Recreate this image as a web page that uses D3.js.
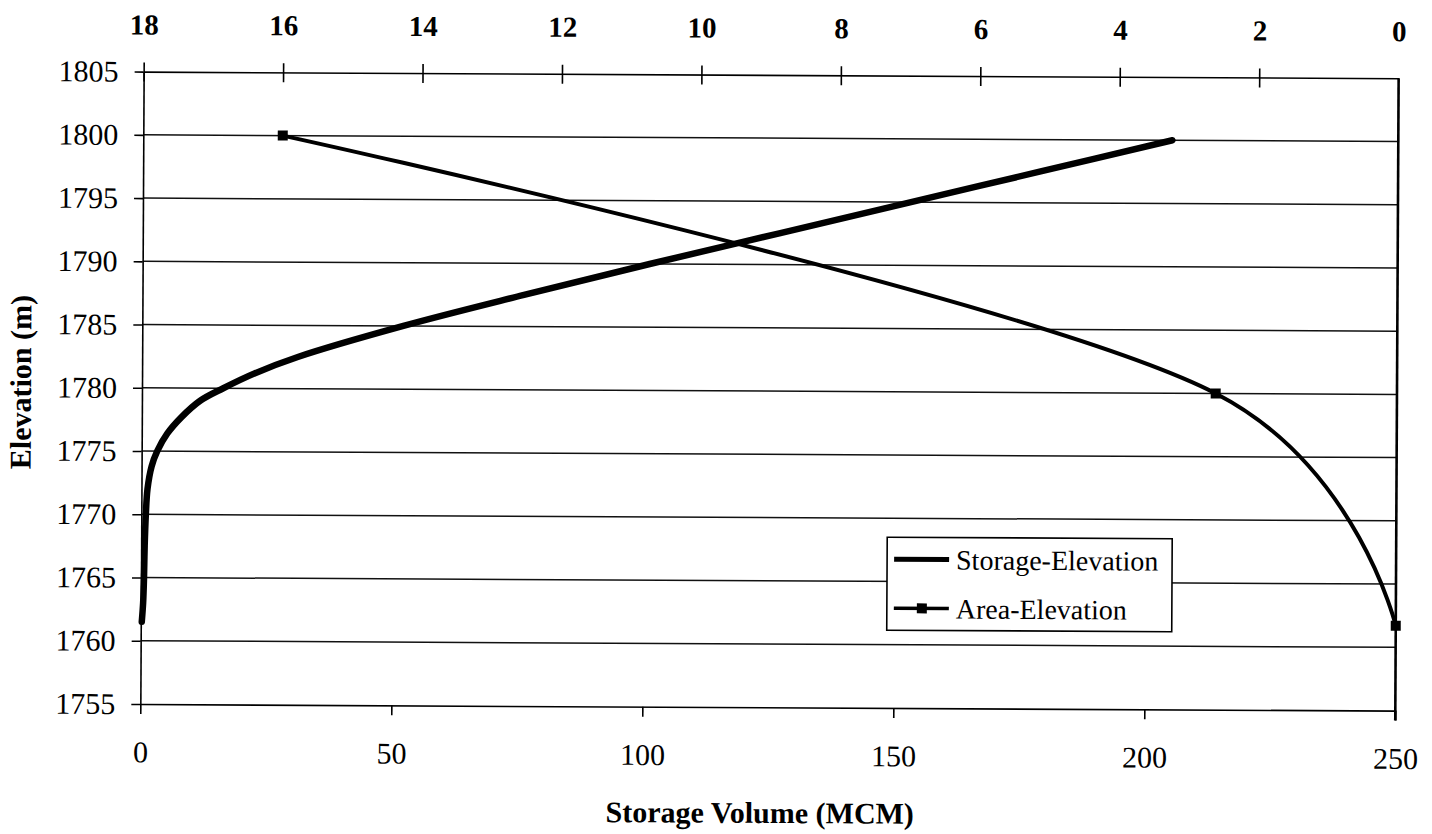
<!DOCTYPE html>
<html>
<head>
<meta charset="utf-8">
<script src="https://cdn.jsdelivr.net/npm/d3@7/dist/d3.min.js"></script>
<style>
  html, body { margin: 0; padding: 0; background: #fff; }
  svg { display: block; }
  text { font-family: "Liberation Serif", "Times New Roman", serif; fill: #000; }
</style>
</head>
<body>
<svg id="chart" width="1432" height="834"></svg>
<script>
// ---- data ----
const elevationTicks = [1755, 1760, 1765, 1770, 1775, 1780, 1785, 1790, 1795, 1800, 1805];
const volumeTicks = [0, 50, 100, 150, 200, 250];
const areaTicks = [18, 16, 14, 12, 10, 8, 6, 4, 2, 0];

// Storage-Elevation curve (storage volume, MCM vs elevation, m)
const storageElevation = [1761.5, 1763, 1765, 1767.5, 1770, 1772, 1773.8, 1775, 1776.4, 1777.7, 1779, 1780, 1781.2, 1782.5, 1785, 1787.5, 1790, 1792.5, 1795, 1797.5, 1800];
const storageVolume    = [0.2,    0.45, 0.6,  0.7,    0.9,  1.2,  2.0,    3.1,  5.1,    7.9,    11.6, 16.2, 22.5,   31,     52,   76,     101,  127,    153,  179,    205];

// Area-Elevation curve (surface area vs elevation)
const areaElevation = [1800, 1780, 1761.7];
const areaValue     = [16,   2.6,  0];

const seriesNames = ["Storage-Elevation", "Area-Elevation"];

// ---- layout ----
const svg = d3.select("#chart");
svg.append("rect").attr("width", 1432).attr("height", 834).attr("fill", "#fff");
const g = svg.append("g").attr("transform", "rotate(0.3,770,388)");

const pLeft = 142, pRight = 1397, pTop = 74.9, pBottom = 707.3;
const x = d3.scaleLinear().domain([0, 250]).range([pLeft, pRight]);
const xTop = d3.scaleLinear().domain([18, 0]).range([pLeft, pRight]);
const y = d3.scaleLinear().domain([1755, 1805]).range([pBottom, pTop]);

const FONT = '"Liberation Serif", "Times New Roman", serif';

// gridlines
g.append("g").selectAll("line")
  .data(elevationTicks.filter(d => d !== 1755 && d !== 1805))
  .join("line")
  .attr("x1", pLeft).attr("x2", pRight)
  .attr("y1", d => y(d)).attr("y2", d => y(d))
  .attr("stroke", "#111").attr("stroke-width", 1.5);

// left axis
const axL = g.append("g").attr("transform", `translate(${pLeft},0)`)
  .call(d3.axisLeft(y).tickValues(elevationTicks).tickFormat(d3.format("d"))
    .tickSizeInner(9).tickSizeOuter(0).tickPadding(16));
// bottom axis
const axB = g.append("g").attr("transform", `translate(0,${pBottom})`)
  .call(d3.axisBottom(x).tickValues(volumeTicks).tickFormat(d3.format("d"))
    .tickSizeInner(10).tickSizeOuter(0).tickPadding(27));
// top axis
const axT = g.append("g").attr("transform", `translate(0,${pTop})`)
  .call(d3.axisTop(xTop).tickValues(areaTicks).tickFormat(d3.format("d"))
    .tickSizeInner(9).tickSizeOuter(0).tickPadding(28));
axT.selectAll(".tick line").attr("y1", 10).attr("y2", -9);

[axL, axB, axT].forEach(a => {
  a.select(".domain").attr("stroke", "#000").attr("stroke-width", 1.6);
  a.selectAll(".tick line").attr("stroke", "#000").attr("stroke-width", 1.6);
  a.selectAll(".tick text").style("font-family", FONT).attr("fill", "#000");
});
axL.selectAll(".tick text").style("font-size", "30px");
axB.selectAll(".tick text").style("font-size", "30px");
axT.selectAll(".tick text").style("font-size", "29px").style("font-weight", "bold");
axT.selectAll(".tick").filter(d => d === 0).select("line").remove();

// right border
g.append("line")
  .attr("x1", x(250)).attr("x2", x(250))
  .attr("y1", y(1805)).attr("y2", y(1755) + 10)
  .attr("stroke", "#000").attr("stroke-width", 2.6);

// storage line
const storageData = storageElevation.map((e, i) => ({ e, v: storageVolume[i] }));
g.append("path")
  .datum(storageData)
  .attr("d", d3.line().x(d => x(d.v)).y(d => y(d.e)).curve(d3.curveCatmullRom.alpha(0.5)))
  .attr("fill", "none").attr("stroke", "#000").attr("stroke-width", 6.5)
  .attr("stroke-linejoin", "round").attr("stroke-linecap", "round");

// area line
const areaData = areaElevation.map((e, i) => ({ e, a: areaValue[i] }));
g.append("path")
  .datum(areaData)
  .attr("d", d3.line().x(d => xTop(d.a)).y(d => y(d.e)).curve(d3.curveCatmullRom.alpha(0.2)))
  .attr("fill", "none").attr("stroke", "#000").attr("stroke-width", 4)
  .attr("stroke-linejoin", "round");
g.append("g").selectAll("rect")
  .data(areaData)
  .join("rect")
  .attr("x", d => xTop(d.a) - 5).attr("y", d => y(d.e) - 5)
  .attr("width", 10).attr("height", 10).attr("fill", "#000");

// axis titles
g.append("text")
  .attr("x", 762).attr("y", 823)
  .attr("text-anchor", "middle")
  .style("font-size", "30px").style("font-weight", "bold")
  .text("Storage Volume (MCM)");
g.append("text")
  .attr("transform", "translate(31,386) rotate(-90)")
  .attr("text-anchor", "middle")
  .style("font-size", "30px").style("font-weight", "bold")
  .text("Elevation (m)");

// legend
const lg = g.append("g").attr("transform", "translate(888,536.6)");
lg.append("rect").attr("width", 285).attr("height", 93)
  .attr("fill", "#fff").attr("stroke", "#000").attr("stroke-width", 1.6);
const rows = [{ name: seriesNames[0], yy: 22, w: 5, marker: false },
              { name: seriesNames[1], yy: 71, w: 3.5, marker: true }];
rows.forEach(r => {
  lg.append("line").attr("x1", 7).attr("x2", 62).attr("y1", r.yy).attr("y2", r.yy)
    .attr("stroke", "#000").attr("stroke-width", r.w);
  if (r.marker) lg.append("rect").attr("x", 30).attr("y", r.yy - 5).attr("width", 10).attr("height", 10).attr("fill", "#000");
  lg.append("text").attr("x", 69).attr("y", r.yy + 10)
    .style("font-size", "28px").text(r.name);
});
</script>
</body>
</html>
